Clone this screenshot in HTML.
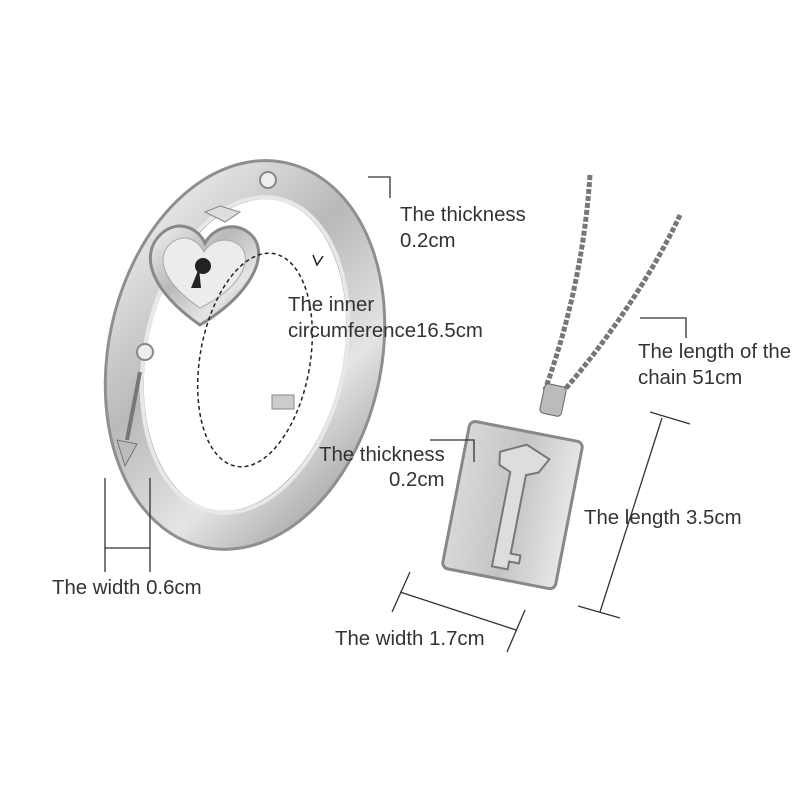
<!DOCTYPE html>
<html><head><meta charset="utf-8"><style>
html,body{margin:0;padding:0;background:#fff;}
svg{display:block}
text{font-family:"Liberation Sans",sans-serif;font-size:20.4px;fill:#333;}
</style></head><body>
<svg width="800" height="800" viewBox="0 0 800 800" xmlns="http://www.w3.org/2000/svg">
<defs>
<linearGradient id="met" x1="0" y1="0" x2="1" y2="1">
<stop offset="0" stop-color="#f2f2f2"/><stop offset="0.4" stop-color="#b9b9b9"/><stop offset="0.7" stop-color="#e4e4e4"/><stop offset="1" stop-color="#9a9a9a"/>
</linearGradient>
<linearGradient id="tag" x1="0" y1="0" x2="1" y2="0">
<stop offset="0" stop-color="#d8d8d8"/><stop offset="0.5" stop-color="#c4c4c4"/><stop offset="1" stop-color="#e6e6e6"/>
</linearGradient>
</defs>
<rect width="800" height="800" fill="#fff"/>
<g transform="rotate(12 245 355)">
<ellipse cx="245" cy="355" rx="118" ry="178" fill="none" stroke="#8f8f8f" stroke-width="40"/>
<ellipse cx="245" cy="355" rx="118" ry="178" fill="none" stroke="url(#met)" stroke-width="34"/>
<ellipse cx="245" cy="355" rx="100" ry="160" fill="none" stroke="#e8e8e8" stroke-width="4"/>
</g>
<circle cx="268" cy="180" r="8" fill="#eee" stroke="#888" stroke-width="2"/>
<circle cx="145" cy="352" r="8" fill="#eee" stroke="#888" stroke-width="2"/>
<line x1="140" y1="372" x2="127" y2="440" stroke="#777" stroke-width="4"/>
<path d="M117 440 l20 4 l-12 22 z" fill="#bbb" stroke="#777"/>
<rect x="272" y="395" width="22" height="14" fill="#ccc" stroke="#888"/>
<path d="M200 325 C150 290 140 255 160 235 C178 218 198 228 205 243 C215 225 240 220 254 238 C268 258 250 295 200 325 Z" fill="url(#met)" stroke="#888" stroke-width="3"/>
<path d="M200 308 C162 282 156 258 170 244 C184 232 198 240 204 252 C212 238 232 236 242 248 C252 262 240 288 200 308 Z" fill="#ececec" stroke="#aaa"/>
<circle cx="203" cy="266" r="8" fill="#222"/>
<path d="M199 268 l-8 20 l10 0 z" fill="#222"/>
<path d="M205 212 l15 -6 l20 6 l-15 10 z" fill="#ddd" stroke="#888"/>
<g transform="rotate(10 255 360)">
<ellipse cx="255" cy="360" rx="55" ry="108" fill="none" stroke="#222" stroke-width="1.5" stroke-dasharray="4 3"/>
</g>
<path d="M313 255 l4 10 l6 -9" fill="none" stroke="#222" stroke-width="1.5"/>
<path d="M590 175 C585 250 570 320 545 390" fill="none" stroke="#777" stroke-width="5" stroke-dasharray="5 2"/>
<path d="M680 215 C650 280 600 350 560 395" fill="none" stroke="#777" stroke-width="5" stroke-dasharray="5 2"/>
<rect x="542" y="385" width="22" height="30" rx="4" fill="#bbb" stroke="#666" transform="rotate(12 553 400)"/>
<g transform="rotate(11 512 505)">
<rect x="455" y="430" width="115" height="150" rx="6" fill="url(#tag)" stroke="#888" stroke-width="3"/>
<path d="M490 455 l25 -12 l25 10 l-8 15 l-12 5 l0 80 l10 0 l0 8 l-10 0 l0 8 l-16 0 l0 -96 l-12 -5 z" fill="#ddd" stroke="#777" stroke-width="2"/>
</g>
<g stroke="#333" stroke-width="1.3" fill="none">
<polyline points="368,177 390,177 390,198"/>
<polyline points="640,318 686,318 686,338"/>
<polyline points="430,440 474,440 474,462"/>
<line x1="662" y1="418" x2="600" y2="612"/>
<line x1="650" y1="412" x2="690" y2="424"/>
<line x1="578" y1="606" x2="620" y2="618"/>
<line x1="400" y1="592" x2="516" y2="630"/>
<line x1="410" y1="572" x2="392" y2="612"/>
<line x1="525" y1="610" x2="507" y2="652"/>
<line x1="105" y1="478" x2="105" y2="572"/>
<line x1="150" y1="478" x2="150" y2="572"/>
<line x1="105" y1="548" x2="150" y2="548"/>
</g>
<text x="400" y="221">The thickness</text>
<text x="400" y="247">0.2cm</text>
<text x="288" y="311">The inner</text>
<text x="288" y="337">circumference16.5cm</text>
<text x="638" y="358">The length of the</text>
<text x="638" y="384">chain 51cm</text>
<text x="319" y="461">The thickness</text>
<text x="389" y="486">0.2cm</text>
<text x="584" y="524">The length 3.5cm</text>
<text x="52" y="594">The width 0.6cm</text>
<text x="335" y="645">The width 1.7cm</text>
</svg>
</body></html>
